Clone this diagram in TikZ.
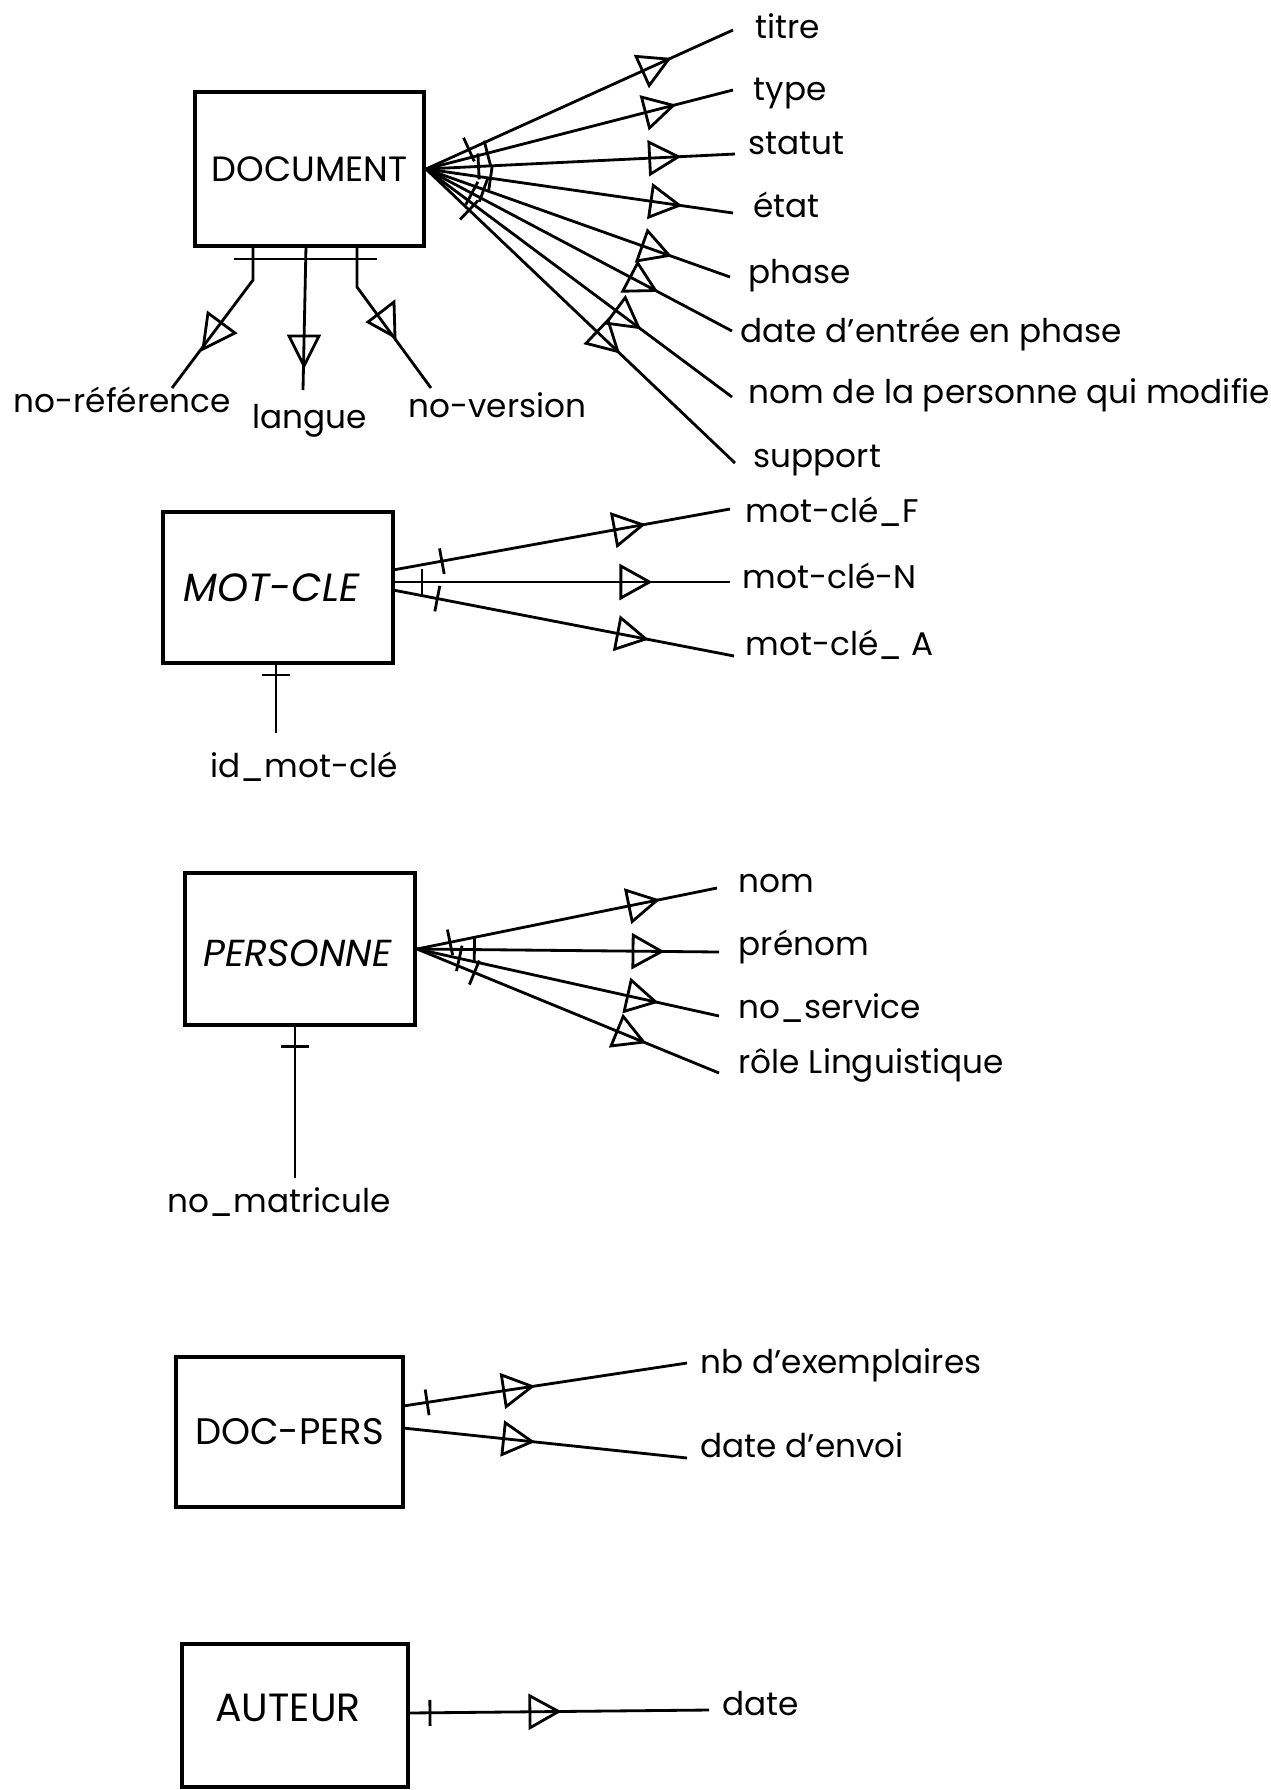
\documentclass[tikz,border=0pt]{standalone}
\usepackage{fontspec}
\setmainfont{Poppins}
\usetikzlibrary{arrows.meta,decorations.markings}
\begin{document}
\begin{tikzpicture}[x=0.01cm,y=-0.01cm,
  ent/.style={draw,line width=1.1pt,inner sep=0pt},
  attr/.style={anchor=base west,inner sep=0pt,font=\fontsize{9.3}{10}\selectfont},
  lnk/.style={line width=0.8pt},
  fan/.style 2 args={lnk,postaction={decorate,decoration={markings,
      mark=at position #1 with {\draw[line width=0.8pt] (0,-13)--(0,13);},
      mark=at position #2 with {\arrow[line width=0.8pt]{Triangle[open,length=0.33cm,width=0.36cm]}}}}},
  fana/.style={lnk,postaction={decorate,decoration={markings,
      mark=at position #1 with {\arrow[line width=0.8pt]{Triangle[open,length=0.33cm,width=0.36cm]}}}}},
  idtick/.style={lnk,postaction={decorate,decoration={markings,
      mark=at position #1 with {\draw[line width=0.8pt] (0,-14)--(0,14);}}}},
  opentri/.style={line width=0.8pt},
]
\useasboundingbox (0,0) rectangle (1271,1790);

% ---------------- DOCUMENT ----------------
\node[ent,minimum width=2.29cm,minimum height=1.54cm,font=\fontsize{10}{12}\selectfont] (doc) at (309.5,169) {DOCUMENT};

\coordinate (e1) at (733,30);
\coordinate (e2) at (733,90);
\coordinate (e3) at (735,154);
\coordinate (e4) at (733,213);
\coordinate (e5) at (730,277);
\coordinate (e6) at (732,331);
\coordinate (e7) at (732,397);
\coordinate (e8) at (735,463);

\node[attr] (t1) at (755,38) {titre};
\node[attr] (t2) at (753,100) {type};
\node[attr] (t3) at (748,154) {statut};
\node[attr] (t4) at (753,217) {état};
\node[attr] (t5) at (748,283) {phase};
\node[attr] (t6) at (740,342) {date d’entrée en phase};
\node[attr] (t7) at (748,403) {nom de la personne qui modifie};
\node[attr] (t8) at (753,467) {support};

\draw[fan={0.14}{0.80}] (doc.east) -- (e1);
\draw[fan={0.20}{0.815}] (doc.east) -- (e2);
\draw[fan={0.17}{0.826}] (doc.east) -- (e3);
\draw[fan={0.21}{0.835}] (doc.east) -- (e4);
\draw[fan={0.19}{0.81}] (doc.east) -- (e5);
\draw[fan={0.15}{0.76}] (doc.east) -- (e6);
\draw[fana={0.705}] (doc.east) -- (e7);
\draw[fan={0.14}{0.63}] (doc.east) -- (e8);

% identifier below DOCUMENT
\coordinate (b1) at (253,246);
\coordinate (k1) at (253,280);
\coordinate (r1) at (172,388);
\coordinate (b2) at (306,246);
\coordinate (r2) at (303,390);
\coordinate (b3) at (357,246);
\coordinate (k3) at (357,287);
\coordinate (r3) at (431,388);
\coordinate (barL) at (234,259);
\coordinate (barR) at (377,259);
\draw[lnk] (b1) -- (k1) -- (r1);
\draw[lnk] (b2) -- (r2);
\draw[lnk] (b3) -- (k3) -- (r3);
\draw[lnk] (barL) -- (barR);
\draw[opentri] (208,313) -- (235,333) -- (203,349) -- cycle;
\draw[opentri] (289,336) -- (319,336) -- (304,366) -- cycle;
\draw[opentri] (368,322) -- (394,302) -- (395,337) -- cycle;

\node[attr] (n1) at (13,412) {no-référence};
\node[attr,anchor=base] (n2) at (310,428) {langue};
\node[attr] (n3) at (408,417) {no-version};

% ---------------- MOT-CLE ----------------
\node[ent,minimum width=2.30cm,minimum height=1.51cm] (mc) at (278,587.5) {};
\node[inner sep=0pt,font=\itshape\fontsize{11.2}{13}\selectfont] (mct) at (271.5,588) {MOT-CLE};
\coordinate (m0a) at (393,570);
\coordinate (m0b) at (393,582);
\coordinate (m0c) at (393,590);
\coordinate (m1) at (730,509);
\coordinate (m2) at (730,582);
\coordinate (m3) at (734,656);
\draw[fan={0.145}{0.75}] (m0a) -- (m1);
\draw[fan={0.086}{0.77}] (m0b) -- (m2);
\draw[fan={0.13}{0.75}] (m0c) -- (m3);
\node[attr] (mt1) at (745,522) {mot-clé\_F};
\node[attr] (mt2) at (742,588) {mot-clé-N};
\node[attr] (mt3) at (745,655) {mot-clé\_ A};
\coordinate (mb) at (276,663);
\coordinate (mi) at (276,733);
\draw[idtick={0.17}] (mb) -- (mi);
\node[attr] (mid) at (210,777) {id\_mot-clé};

% ---------------- PERSONNE ----------------
\node[ent,minimum width=2.30cm,minimum height=1.52cm] (pe) at (300,949) {};
\node[inner sep=0pt,font=\itshape\fontsize{10.7}{13}\selectfont] (pet) at (297.5,953) {PERSONNE};
\coordinate (p1) at (717,888);
\coordinate (p2) at (719,952);
\coordinate (p3) at (719,1016);
\coordinate (p4) at (719,1073);
\draw[fan={0.11}{0.81}] (pe.east) -- (p1);
\draw[fan={0.19}{0.82}] (pe.east) -- (p2);
\draw[fan={0.14}{0.80}] (pe.east) -- (p3);
\draw[fan={0.19}{0.76}] (pe.east) -- (p4);
\node[attr] (pt1) at (738,892) {nom};
\node[attr] (pt2) at (738,955) {prénom};
\node[attr] (pt3) at (738,1018) {no\_service};
\node[attr] (pt4) at (738,1073) {rôle Linguistique};
\coordinate (pb) at (295,1025);
\coordinate (pm) at (295,1178);
\draw[idtick={0.14}] (pb) -- (pm);
\node[attr] (pmt) at (167,1212) {no\_matricule};

% ---------------- DOC-PERS ----------------
\node[ent,minimum width=2.27cm,minimum height=1.50cm,font=\fontsize{10.5}{12}\selectfont] (dp) at (289.5,1432) {DOC-PERS};
\coordinate (d0a) at (403,1406);
\coordinate (d0b) at (403,1428);
\coordinate (d1) at (687,1363);
\coordinate (d2) at (687,1458);
\draw[fan={0.085}{0.465}] (d0a) -- (d1);
\draw[fana={0.465}] (d0b) -- (d2);
\node[attr] (dt1) at (700,1373) {nb d’exemplaires};
\node[attr] (dt2) at (700,1457) {date d’envoi};

% ---------------- AUTEUR ----------------
\node[ent,minimum width=2.26cm,minimum height=1.43cm] (au) at (295,1715.5) {};
\node[inner sep=0pt,font=\fontsize{11.2}{13}\selectfont] (aut) at (288,1708) {AUTEUR};
\coordinate (a0) at (408,1713);
\coordinate (a1) at (709,1710);
\draw[fan={0.073}{0.51}] (a0) -- (a1);
\node[attr] (at1) at (722,1715) {date};
\end{tikzpicture}
\end{document}
